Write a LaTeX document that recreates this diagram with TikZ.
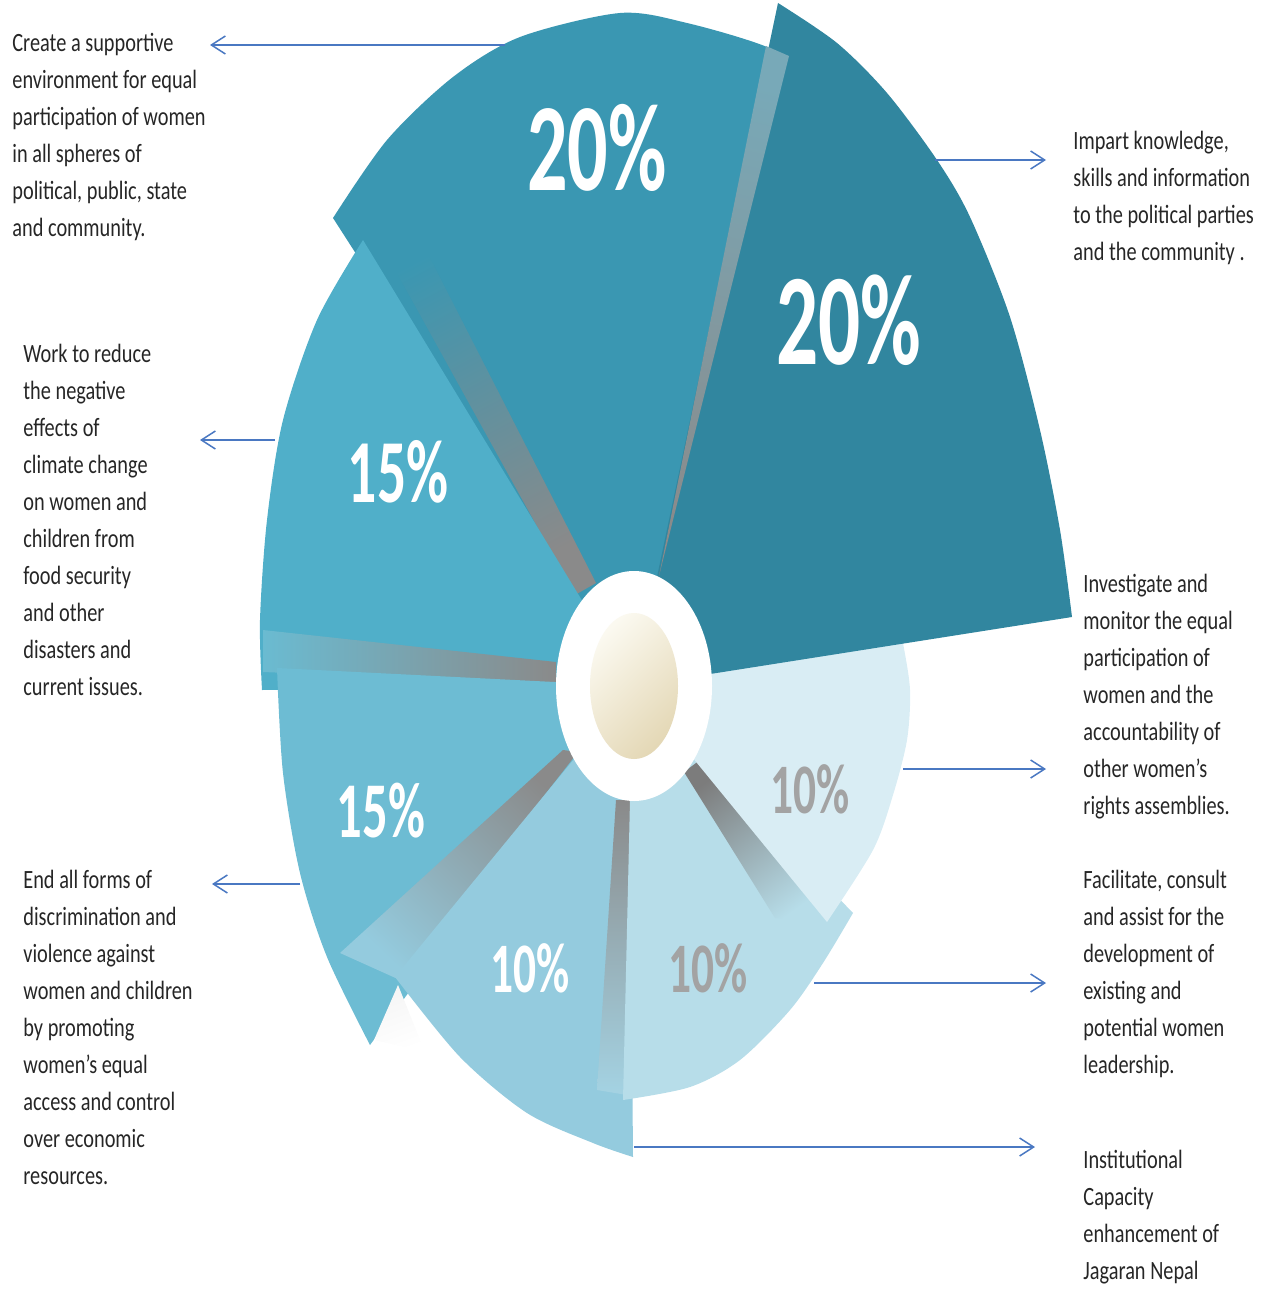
\documentclass[tikz,border=0pt]{standalone}
\usepackage{fontspec}
\setmainfont{Carlito}[FakeStretch=0.77]
\newfontfamily\pctfont{Carlito}[FakeStretch=0.64]
\usepackage{tikz}
\usetikzlibrary{arrows.meta}

\definecolor{sliceA}{HTML}{3A97B2}
\definecolor{sliceB}{HTML}{31869F}
\definecolor{sliceC}{HTML}{50AFC9}
\definecolor{sliceD}{HTML}{6DBCD3}
\definecolor{sliceE}{HTML}{94CBDE}
\definecolor{sliceF}{HTML}{B7DDE9}
\definecolor{sliceG}{HTML}{D9EDF4}
\definecolor{bevel}{HTML}{8A8A8A}
\definecolor{bevelAB}{HTML}{78A9B8}
\definecolor{creamlight}{HTML}{FBF9F0}
\definecolor{creamdark}{HTML}{E4D8B6}
\definecolor{pctgrey}{HTML}{A3A3A3}
\definecolor{arrowblue}{HTML}{4A78C2}
\definecolor{goaltext}{HTML}{262626}

\tikzset{
	goal/.style={anchor=base west, align=left, inner sep=0pt, text=goaltext, font=\fontsize{13.2}{18.5}\selectfont},
	pct/.style={text=white, inner sep=0pt, font=\pctfont\bfseries\fontsize{#1}{#1}\selectfont},
	pointer/.style={draw=arrowblue, line width=0.75pt, -{Straight Barb[length=7pt,width=9pt]}}
}

\begin{document}
\begin{tikzpicture}[x=0.5pt, y=-0.5pt]
			%%%%% START %%%%%
			\useasboundingbox (0,0) rectangle (1267,1289);
			
			\fill[sliceA] (634,686) -- plot[smooth] coordinates {(333,218) (387,140) (453,77) (520,37) (620,13) (687,23) (767,47) (810,75)} -- cycle;
			\shade[top color=sliceA, middle color=sliceA!55!bevel!85!white, bottom color=bevel, shading angle=28] (372,228) -- (410,219) -- (596,583) -- (575,595) -- cycle;
			
			\fill[sliceC] (634,686) -- plot[smooth] coordinates {(363,240) (317,320) (283,420) (267,520) (260,620) (262,690)} -- cycle;
			\shade[left color=sliceC!85!white, middle color=sliceD!55!bevel, right color=bevel] (263,630) -- (556,662) -- (556,684) -- (263,672) -- cycle;
			
			\fill[sliceD] (634,686) -- plot[smooth] coordinates {(277,668) (283,773) (300,873) (327,957) (370,1045)} -- cycle;
			\shade[top color=sliceE, bottom color=bevel, shading angle=136.5] (340,953) -- (400,980) -- (578,752) -- (563,750) -- cycle;
			\shade[top color=black!4, bottom color=white, shading angle=20] (374,1040) -- (398,985) -- (425,1052) -- cycle;
			
			\fill[sliceE] (634,686) -- plot[smooth] coordinates {(395,977) (460,1057) (527,1113) (593,1143) (633,1157)} -- (630,800) -- cycle;
			\shade[top color=bevel, bottom color=sliceE!85!white] (616,800) -- (634,800) -- (627,1095) -- (597,1090) -- cycle;
			
			\fill[sliceF] (634,686) -- (630,800) -- plot[smooth] coordinates {(623,1100) (690,1087) (740,1060) (790,1010) (823,963) (853,913)} -- cycle;
			\shade[top color=sliceF, bottom color=bevel!90!black, shading angle=-144] (684,772) -- (700,760) -- (830,922) -- (775,918) -- cycle;
			
			\fill[sliceG] (634,686) -- plot[smooth] coordinates {(827,922) (873,850) (893,795) (907,740) (910,690) (903,643) (896,610)} -- cycle;
			\fill[sliceB] (634,686) -- plot[smooth] coordinates {(778,3) (837,43) (887,93) (937,160) (970,217) (1010,317) (1040,430) (1060,530) (1072,617)} -- cycle;
			\shade[top color=bevelAB, bottom color=bevel, shading angle=-12.6] (766,46) -- (789,56) -- (659,576) -- cycle;
			
			\fill[white] (634,686) ellipse [x radius=78, y radius=115];
			\shade[top color=creamlight, bottom color=creamdark, shading angle=45] (634,686) ellipse [x radius=44, y radius=73];
			
			\node[pct=62.5] (pctA) at (597,148) {20\%};
			\node[pct=65] (pctB) at (849,320) {20\%};
			\node[pct=45] (pctC) at (398,472) {15\%};
			\node[pct=39.5] (pctD) at (381,811) {15\%};
			\node[pct=35.5] (pctE) at (530,968) {10\%};
			\node[pct=35.5, text=pctgrey] (pctF) at (708,968) {10\%};
			\node[pct=35.5, text=pctgrey] (pctG) at (810,789) {10\%};
			
			% base is the last line
			\node[goal] (goalCreate) at (12,236) {Create a supportive\\environment for equal\\participation of women\\in all spheres of\\political, public, state\\and community.};
			\node[goal] (goalImpart) at (1073,261) {Impart knowledge,\\skills and information\\to the political parties\\and the community .};
			\node[goal] (goalReduce) at (23,695) {Work to reduce\\the negative\\effects of\\climate change\\on women and\\children from\\food security\\and other\\disasters and\\current issues.};
			\node[goal] (goalMonitor) at (1083,814) {Investigate and\\monitor the equal\\participation of\\women and the\\accountability of\\other women's\\rights assemblies.};
			\node[goal] (goalEnd) at (23,1184) {End all forms of\\discrimination and\\violence against\\women and children\\by promoting\\women's equal\\access and control\\over economic\\resources.};
			\node[goal] (goalFacilitate) at (1083,1073) {Facilitate, consult\\and assist for the\\development of\\existing and\\potential women\\leadership.};
			\node[goal] (goalCapacity) at (1083,1279) {Institutional\\Capacity\\enhancement of\\Jagaran Nepal};
			
			\coordinate (fromCreate) at (505,45);
			\coordinate (toCreate) at (210,45);
			\coordinate (fromImpart) at (935,160);
			\coordinate (toImpart) at (1046,160);
			\coordinate (fromReduce) at (275,440);
			\coordinate (toReduce) at (200,440);
			\coordinate (fromMonitor) at (903,769);
			\coordinate (toMonitor) at (1046,769);
			\coordinate (fromEnd) at (300,884);
			\coordinate (toEnd) at (212,884);
			\coordinate (fromFacilitate) at (814,983);
			\coordinate (toFacilitate) at (1046,983);
			\coordinate (fromCapacity) at (634,1147);
			\coordinate (toCapacity) at (1035,1147);
			
			\draw[pointer] (fromCreate) -- (toCreate);
			\draw[pointer] (fromImpart) -- (toImpart);
			\draw[pointer] (fromReduce) -- (toReduce);
			\draw[pointer] (fromMonitor) -- (toMonitor);
			\draw[pointer] (fromEnd) -- (toEnd);
			\draw[pointer] (fromFacilitate) -- (toFacilitate);
			\draw[pointer] (fromCapacity) -- (toCapacity);
			
			%%%%% END %%%%%
\end{tikzpicture}
\end{document}
